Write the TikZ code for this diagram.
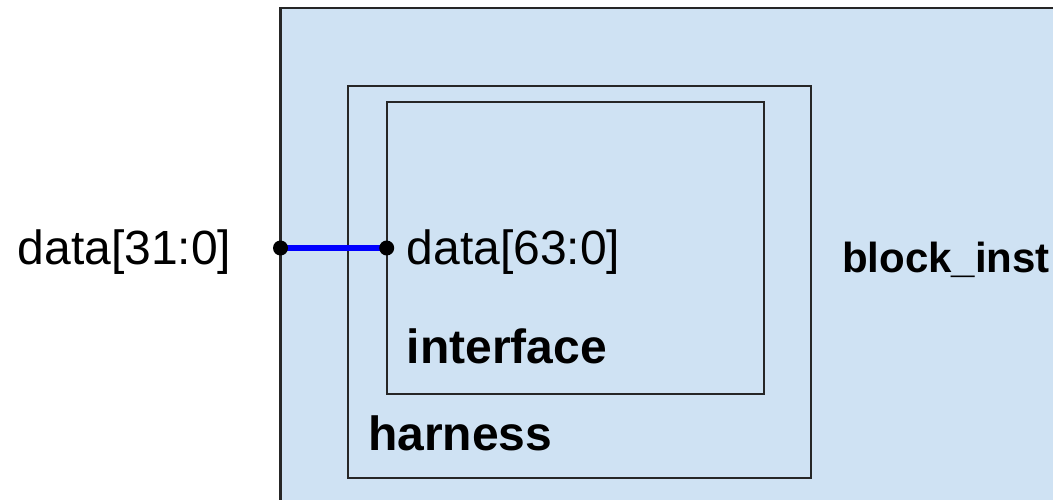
\documentclass[tikz,border=0pt]{standalone}
\usepackage{fontspec}
\setmainfont{Liberation Sans}
\definecolor{blockfill}{HTML}{CFE2F3}
\definecolor{edge}{HTML}{262626}
\definecolor{wire}{HTML}{0000FF}
\begin{document}
\begin{tikzpicture}[x=1pt,y=-1pt,
  box/.style={draw=edge, line width=2pt, fill=blockfill, anchor=north west,
    inner sep=0pt, outer sep=0pt},
  portlabel/.style={anchor=base west, inner sep=0pt, font=\fontsize{48}{56}\selectfont},
  blocklabel/.style={anchor=base west, inner sep=0pt, font=\fontsize{48}{56}\selectfont\bfseries},
  pin/.style={circle, fill=black, inner sep=0pt, minimum size=15pt},
  wireline/.style={draw=wire, line width=5.5pt}]
\useasboundingbox (0,0) rectangle (1053,500);
\clip (0,0) rectangle (1053,500);

% nested blocks (the outer one runs past the page edge)
\node[box, line width=2.5pt, minimum width=800pt, minimum height=620pt] (block) at (280.5,8) {};
\node[box, minimum width=463pt, minimum height=392pt] (harness) at (348,86) {};
\node[box, minimum width=377pt, minimum height=292pt] (iface) at (386.7,102) {};

% block names
\node[blocklabel, font=\fontsize{42}{50}\selectfont\bfseries] (blockname) at (842,272) {block\_inst};
\node[blocklabel] (harnessname) at (368,450) {harness};
\node[blocklabel] (ifacename) at (406.5,363) {interface};

% ports
\coordinate (pout) at (280.5,248);
\coordinate (pin) at (386.7,248);
\draw[wireline] (pout) -- (pin);
\node[pin] (dotout) at (pout) {};
\node[pin] (dotin) at (pin) {};

\node[portlabel] (extname) at (17.5,264) {data[31:0]};
\node[portlabel] (intname) at (406.5,264) {data[63:0]};
\end{tikzpicture}
\end{document}
